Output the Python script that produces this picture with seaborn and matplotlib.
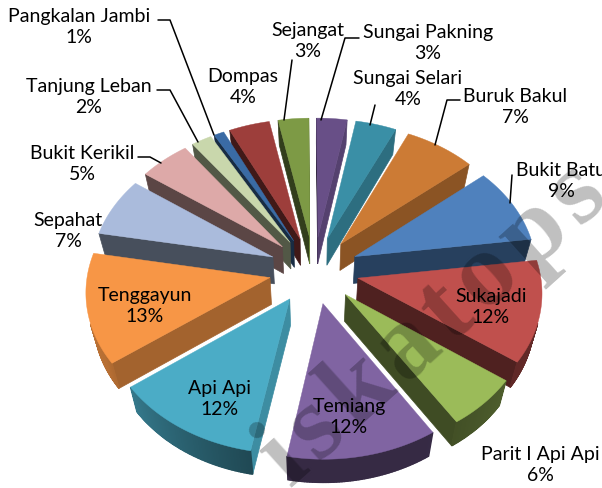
import numpy as np
import matplotlib
matplotlib.use("Agg")
import matplotlib.pyplot as plt
import seaborn as sns

#%% data
names = ["Bukit Batu", "Sukajadi", "Parit I Api Api", "Temiang", "Api Api", "Tenggayun", "Sepahat",
         "Bukit Kerikil", "Tanjung Leban", "Pangkalan Jambi", "Dompas", "Sejangat", "Sungai Pakning",
         "Sungai Selari", "Buruk Bakul"]
percent = [9, 12, 6, 12, 12, 13, 7, 5, 2, 1, 4, 3, 3, 4, 7]
colors = ["#4F81BD", "#C0504D", "#9BBB59", "#8064A2", "#4BACC6", "#F79646", "#AABBDC",
          "#DDA9A8", "#C9D7AC", "#3A6BA5", "#9D3E3B", "#7D9A45", "#684F87", "#3A8FA6", "#CC7B35"]

# label centres, pixels
label_pos = {"Bukit Batu": (561, 181), "Sukajadi": (491, 307), "Parit I Api Api": (540, 465),
             "Temiang": (349, 417), "Api Api": (220, 399), "Tenggayun": (145, 306), "Sepahat": (68, 231),
             "Bukit Kerikil": (82, 164), "Tanjung Leban": (89, 97), "Pangkalan Jambi": (79, 27),
             "Dompas": (243, 87), "Sejangat": (308, 41), "Sungai Pakning": (428, 43),
             "Sungai Selari": (408, 89), "Buruk Bakul": (515, 107)}
leader_x = [[158, 170, 214], [157, 170, 198], [138, 150, 161], [292, 284], [359, 345, 321], [375, 370],
            [460, 447, 435], [512, 510]]
leader_y = [[20, 20, 135], [90, 90, 142], [157, 157, 163], [60, 120], [38, 38, 120], [105, 125],
            [100, 100, 145], [175, 203]]

#%% camera
CX, CY = 314, 270
R, EXPLODE = 182, 45
TILT, PERSP = 0.744, 0.00049
DEPTH = 27
START = 40


def project(px, py, z):
    s = 1 / (1 + PERSP * py)
    sx = CX + px * s * (1 - 0.035 * z)
    sy = CY - TILT * py * s * (1 - 0.02 * z) + DEPTH * z * min(s, 1) ** 2
    return sx, sy


def area(quad):
    # shoelace with y pointing up
    x = np.array([q[0] for q in quad])
    y = -np.array([q[1] for q in quad])
    return 0.5 * np.sum(x * np.roll(y, -1) - np.roll(x, -1) * y)


def shade(col, f):
    r, g, b = matplotlib.colors.to_rgb(col)
    return (r * f, g * f, b * f)


def rim_shade(theta):
    t = (theta + 320) % 360 - 320
    return np.interp(t, [-320, -200, -150, -100, -60, -36, 0, 8, 40], [0.6, 0.78, 0.74, 0.42, 0.42, 0.5, 0.56, 0.78, 0.8])


def cut_shade(phi):
    p = (phi + 180) % 360 - 180
    return np.interp(p, [-180, -100, -82, -50, -10, 0], [0.4, 0.42, 0.5, 0.68, 0.82, 0.85])


sns.set_theme(style="white")
plt.rcParams["font.family"] = ["Lato", "DejaVu Sans"]
fig = plt.figure(figsize=(6.02, 4.88), dpi=100)
ax = fig.add_axes([0, 0, 1, 1])
ax.set_xlim(0, 602)
ax.set_ylim(488, 0)
ax.axis("off")

# slices, clockwise from START
ends = START - np.cumsum(percent) * 3.6
starts = np.r_[START, ends[:-1]]
mids = (starts + ends) / 2
order = np.argsort(-np.sin(np.radians(mids)))

for rank, i in enumerate(order):
    col = colors[i]
    z = 2 + 0.01 * rank
    ox = EXPLODE * np.cos(np.radians(mids[i]))
    oy = EXPLODE * np.sin(np.radians(mids[i]))
    th = np.linspace(starts[i], ends[i], max(int(percent[i]) * 8, 8))
    xs = ox + R * np.cos(np.radians(th))
    ys = oy + R * np.sin(np.radians(th))
    top = [project(x, y, 0) for x, y in zip(xs, ys)]
    low = [project(x, y, 1) for x, y in zip(xs, ys)]
    a_top, a_low = project(ox, oy, 0), project(ox, oy, 1)

    # cut faces
    quad = [a_top, top[0], low[0], a_low]
    if area(quad) > 0:
        ax.fill(*zip(*quad), color=shade(col, cut_shade(starts[i] + 90)), lw=0.5, zorder=z)
    quad = [top[-1], a_top, a_low, low[-1]]
    if area(quad) > 0:
        ax.fill(*zip(*quad), color=shade(col, cut_shade(ends[i] - 90)), lw=0.5, zorder=z)
    # rim
    for j in range(len(th) - 1):
        quad = [top[j], top[j + 1], low[j + 1], low[j]]
        if area(quad) > 0:
            ax.fill(*zip(*quad), color=shade(col, rim_shade((th[j] + th[j + 1]) / 2)), lw=1.0, zorder=z)
    # top face
    ax.fill(*zip(*([a_top] + top)), color=col, lw=0.3, zorder=z)

# leaders
for lx, ly in zip(leader_x, leader_y):
    ax.plot(lx, ly, color="black", lw=1.1, zorder=5)

# labels
for name, v in zip(names, percent):
    x, y = label_pos[name]
    ax.text(x, y, f"{name}\n{v}%", ha="center", va="center", fontsize=14, color="black",
            linespacing=1.27, zorder=6)

# watermark
ax.text(434, 326, "i\u200as\u200ak\u200aa\u200at\u200ao\u200ap\u200as", rotation=42, rotation_mode="anchor",
        ha="center", va="center", family="Liberation Serif", fontweight="bold", fontsize=76,
        color="black", alpha=0.25, zorder=7)

fig.savefig("out.png", dpi=100)
